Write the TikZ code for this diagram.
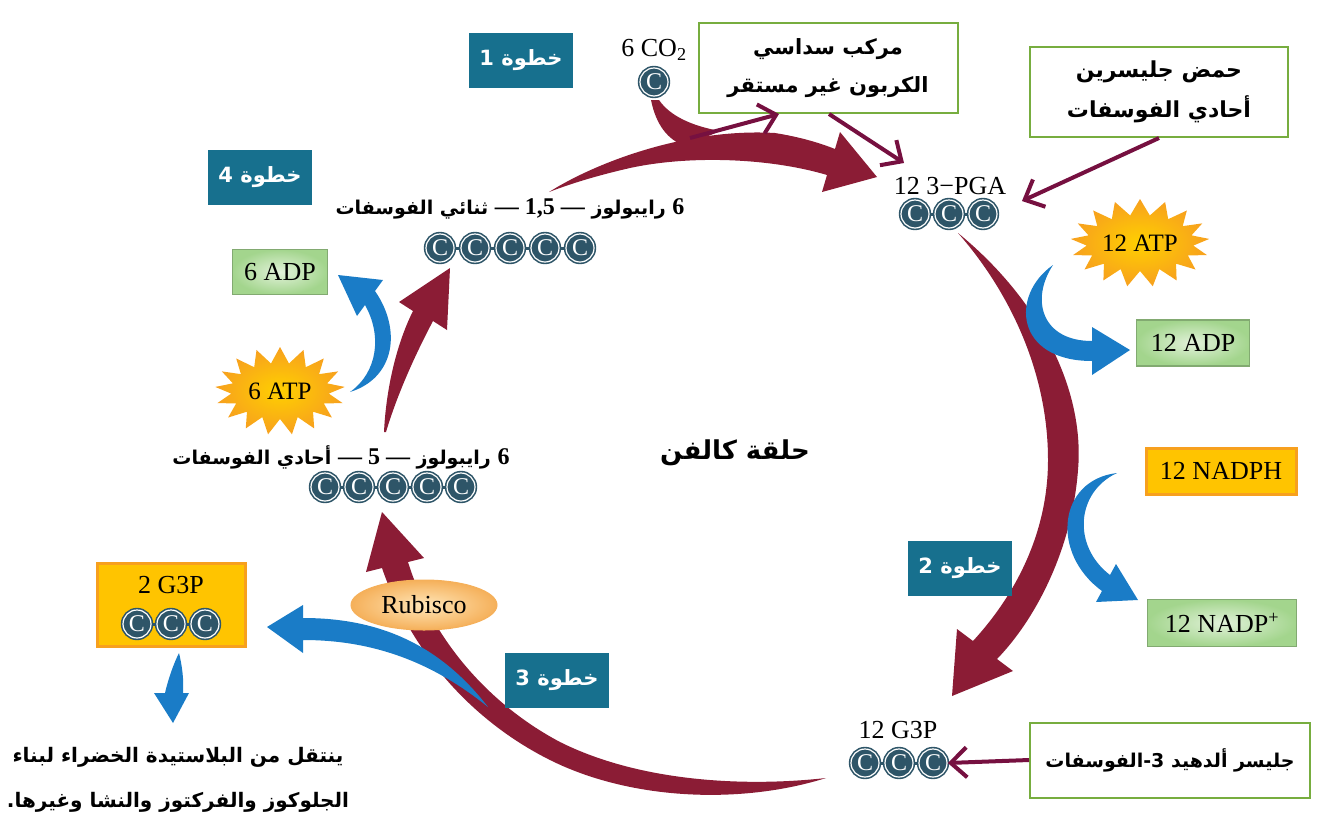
\documentclass[tikz,border=0pt]{standalone}
\usepackage{fontspec}
\setmainfont{Liberation Serif}
\newfontfamily\arabicfont[Script=Arabic]{DejaVu Sans}
\TeXXeTstate=1
\usetikzlibrary{arrows.meta,shapes.geometric,shapes.symbols,positioning}

\definecolor{cyclered}{HTML}{8B1C35}
\definecolor{flowblue}{HTML}{1A7CC7}
\definecolor{stepteal}{HTML}{17708E}
\definecolor{atomblue}{HTML}{2E5568}
\definecolor{linkpurple}{HTML}{761040}
\definecolor{boxgreen}{HTML}{77AD3F}
\definecolor{palegreen}{HTML}{E2F2DA}
\definecolor{midgreen}{HTML}{A3D58D}
\definecolor{sunyellow}{HTML}{FFD000}
\definecolor{sunorange}{HTML}{F7A01E}
\definecolor{peach}{HTML}{FFE6B8}
\definecolor{peachdark}{HTML}{F5B05A}

\newcommand\latnum[1]{{\rmfamily\fontsize{24}{24}\selectfont #1}}

\tikzset{
  stepbox/.style={fill=stepteal, text=white, minimum width=104pt, minimum height=55pt,
    inner sep=0pt, font=\arabicfont\bfseries\fontsize{21}{25}\selectfont},
  atom/.style={circle, fill=atomblue, draw=atomblue, double=white, double distance=1.2pt,
    line width=1.6pt, inner sep=0pt, minimum size=28pt, text=white,
    font=\fontsize{24}{24}\selectfont},
  bond/.style={draw=atomblue, line width=3pt},
  lbl/.style={inner sep=0pt, font=\fontsize{26}{28}\selectfont},
  molbox/.style={draw=midgreen!80!black, line width=1.2pt, inner color=palegreen,
    outer color=midgreen, inner sep=0pt, font=\fontsize{26}{28}\selectfont},
  energybox/.style={draw=sunorange, line width=3pt, fill=sunyellow!85!orange,
    inner sep=0pt, font=\fontsize{26}{28}\selectfont},
  sun/.style={starburst, starburst points=17, starburst point height=16pt,
    random starburst=0, inner color=sunyellow, outer color=sunorange, inner sep=0pt,
    font=\fontsize{25}{25}\selectfont},
  namebox/.style={draw=boxgreen, line width=2pt, fill=white, align=center, inner sep=0pt,
    font=\arabicfont\bfseries\fontsize{21}{38}\selectfont},
  artext/.style={inner sep=0pt, font=\arabicfont\bfseries\fontsize{19}{22}\selectfont},
  feed/.style={draw=linkpurple, line width=4pt, -{Straight Barb[length=16pt,width=30pt]}}
}

\begin{document}
\begin{tikzpicture}[x=1pt, y=-1pt]
    \useasboundingbox (0,0) rectangle (1317,833);

    % main cycle arrows
    \fill[cyclered] (549,192) .. controls (600,160) and (690,128) .. (775,133)
        .. controls (800,137) and (820,143) .. (835,149) -- (840,132) -- (877,177)
        -- (822,192) -- (827,175) .. controls (770,158) and (690,155) .. (630,168)
        .. controls (595,176) and (570,184) .. (549,192) -- cycle;
    \fill[cyclered] (651,100) .. controls (656,125) and (668,140) .. (685,146)
        -- (720,131) .. controls (692,126) and (670,116) .. (659,100) -- cycle;
    \fill[cyclered] (958,233) .. controls (1040,300) and (1085,390) .. (1078,470)
        .. controls (1072,550) and (1035,620) .. (997,659) -- (1013,671) -- (952,696)
        -- (957,629) -- (973,641) .. controls (1018,592) and (1048,530) .. (1048,460)
        .. controls (1048,370) and (1008,290) .. (958,233) -- cycle;
    \fill[cyclered] (826,778) .. controls (740,805) and (630,800) .. (550,760)
        .. controls (470,720) and (410,650) .. (382,568) -- (366,572) -- (382,512)
        -- (424,558) -- (408,562) .. controls (432,640) and (490,705) .. (560,742)
        .. controls (640,782) and (745,787) .. (826,778) -- cycle;
    \fill[cyclered] (384,432) .. controls (386,390) and (396,345) .. (413,311)
        -- (399,302) -- (450,268) -- (447,330) -- (433,321)
        .. controls (415,355) and (397,395) .. (386,432) -- cycle;

    % side arrows
    \fill[flowblue] (350,392) .. controls (395,378) and (402,330) .. (375,291)
        -- (383,280) -- (338,275) -- (357,316) -- (365,305)
        .. controls (382,335) and (378,372) .. (350,392) -- cycle;
    \fill[flowblue] (1053,265) .. controls (1010,295) and (1015,361) .. (1092,361)
        -- (1092,375) -- (1130,350) -- (1092,327) -- (1092,341)
        .. controls (1042,341) and (1030,300) .. (1053,265) -- cycle;
    \fill[flowblue] (1117,473) .. controls (1058,480) and (1050,553) .. (1102,591)
        -- (1096,602) -- (1138,600) -- (1116,564) -- (1110,575)
        .. controls (1072,546) and (1076,492) .. (1117,473) -- cycle;
    \fill[flowblue] (488,707) .. controls (440,645) and (380,618) .. (303,618)
        -- (303,605) -- (267,627) -- (303,653) -- (303,640)
        .. controls (370,640) and (430,660) .. (488,707) -- cycle;
    \fill[flowblue] (179,653) .. controls (182,665) and (184,680) .. (183,693)
        -- (189,693) -- (173,723) -- (154,693) -- (165,693)
        .. controls (168,680) and (173,665) .. (179,653) -- cycle;

    % steps
    \node[stepbox] (s1) at (521,60) {\beginR خطوة 1\endR};
    \node[stepbox] (s2) at (960,568) {\beginR خطوة 2\endR};
    \node[stepbox] (s3) at (557,680) {\beginR خطوة 3\endR};
    \node[stepbox] (s4) at (260,177) {\beginR خطوة 4\endR};

    % molecules
    \node[lbl] (co2) at (654,50) {6 CO\textsubscript{2}};
    \node[atom] (co2c) at (654,82) {C};

    \node[lbl] (pga) at (950,186) {12 3−PGA};
    \foreach \n/\x in {1/915, 2/949, 3/983}
        \node[atom] (pga\n) at (\x,214) {C};

    \node[lbl] (g3p) at (898,730) {12 G3P};
    \foreach \n/\x in {1/865, 2/899, 3/933}
        \node[atom] (g3p\n) at (\x,763) {C};

    \node[artext] (rubp) at (510,209) {\beginR\latnum{6} رايبولوز \latnum{— \beginL 1,5\endL\ —} ثنائي الفوسفات\endR};
    \foreach \n/\x in {1/440, 2/475, 3/510, 4/545, 5/580}
        \node[atom] (rubp\n) at (\x,248) {C};

    \node[artext] (ru5p) at (341,457) {\beginR\latnum{6} رايبولوز \latnum{— 5 —} أحادي الفوسفات\endR};
    \foreach \n/\x in {1/325, 2/359, 3/393, 4/427, 5/461}
        \node[atom] (ru5p\n) at (\x,487) {C};

    \node[energybox, minimum width=148pt, minimum height=83pt] (out) at (171,605) {};
    \node[lbl] (outlbl) at (171,585) {2 G3P};
    \foreach \n/\x in {1/137, 2/171, 3/205}
        \node[atom] (out\n) at (\x,624) {C};

    \foreach \m in {pga, g3p, out} {
        \draw[bond] (\m1) -- (\m2);
        \draw[bond] (\m2) -- (\m3);
    }
    \foreach \m in {rubp, ru5p} {
        \foreach \i [count=\j from 2] in {1,...,4}
            \draw[bond] (\m\i) -- (\m\j);
    }

    % energy
    \node[sun, minimum width=132pt, minimum height=88pt] (atp12) at (1140,243) {12 ATP};
    \node[sun, minimum width=130pt, minimum height=88pt] (atp6) at (280,391) {6 ATP};
    \node[molbox, minimum width=113pt, minimum height=46pt] (adp12) at (1193,343) {12 ADP};
    \node[molbox, minimum width=95pt, minimum height=45pt] (adp6) at (280,272) {6 ADP};
    \node[energybox, minimum width=150pt, minimum height=46pt] (nadph) at (1221,471) {12 NADPH};
    \node[molbox, minimum width=149pt, minimum height=47pt] (nadp) at (1222,623) {12 NADP\textsuperscript{+}};

    \node[ellipse, draw=peachdark, line width=1pt, inner color=peach, outer color=peachdark,
        minimum width=146pt, minimum height=50pt, inner sep=0pt, font=\fontsize{26}{28}\selectfont]
        (rubisco) at (424,605) {Rubisco};

    \node[artext, font=\arabicfont\bfseries\fontsize{26}{30}\selectfont] (title) at (735,453)
        {\beginR حلقة كالفن\endR};

    % names
    \node[namebox, minimum width=259pt, minimum height=90pt] (hexa) at (828,68)
        {\beginR مركب سداسي\endR\\ \beginR الكربون غير مستقر\endR};
    \node[namebox, minimum width=258pt, minimum height=90pt,
        font=\arabicfont\bfseries\fontsize{22}{40}\selectfont] (pganame) at (1159,92)
        {\beginR حمض جليسرين\endR\\ \beginR أحادي الفوسفات\endR};
    \node[namebox, minimum width=280pt, minimum height=75pt,
        font=\arabicfont\bfseries\fontsize{19}{24}\selectfont] (g3pname) at (1170,760)
        {\beginR جليسر ألدهيد 3-الفوسفات\endR};

    \coordinate (hexaIn) at (690,138);
    \coordinate (hexaOut) at (904,163);
    \coordinate (pgaIn) at (1022,201);
    \draw[feed] (hexaIn) -- (hexa.south -| 779,0);
    \draw[feed] (hexa.south -| 829,0) -- (hexaOut);
    \draw[feed] (pganame.south) -- (pgaIn);
    \draw[feed] (g3pname.west) -- (g3p3.east);

    % export note
    \node[artext, font=\arabicfont\bfseries\fontsize{20}{24}\selectfont] (note1) at (178,757)
        {\beginR ينتقل من البلاستيدة الخضراء لبناء\endR};
    \node[artext, font=\arabicfont\bfseries\fontsize{20}{24}\selectfont] (note2) at (178,802)
        {\beginR الجلوكوز والفركتوز والنشا وغيرها.\endR};
\end{tikzpicture}
\end{document}
